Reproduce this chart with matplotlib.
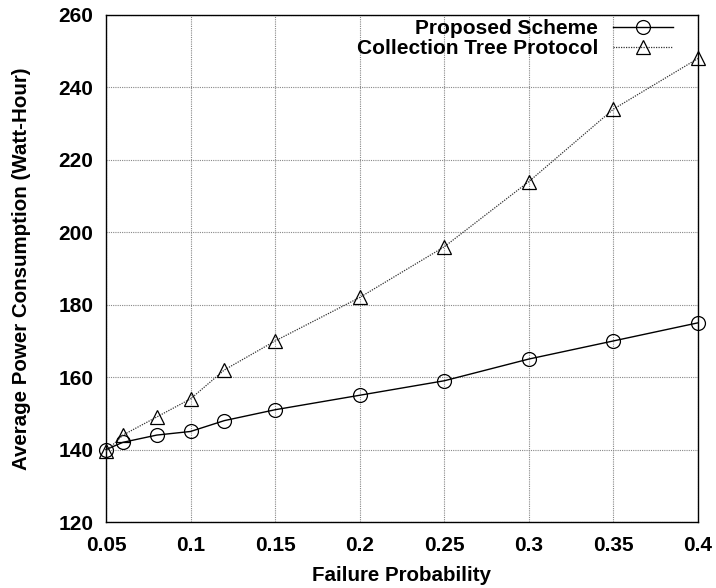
import matplotlib
matplotlib.use("Agg")
import matplotlib.pyplot as plt

# data
failure_prob = [0.05, 0.06, 0.08, 0.1, 0.12, 0.15, 0.2, 0.25, 0.3, 0.35, 0.4]
proposed = [140, 142, 144, 145, 148, 151, 155, 159, 165, 170, 175]
ctp = [139.5, 144, 149, 154, 162, 170, 182, 196, 214, 234, 248]

xticks = [0.05, 0.1, 0.15, 0.2, 0.25, 0.3, 0.35, 0.4]
xticklabels = ["0.05", "0.1", "0.15", "0.2", "0.25", "0.3", "0.35", "0.4"]
yticks = [120, 140, 160, 180, 200, 220, 240, 260]

plt.rcParams['font.family'] = ['Liberation Sans', 'DejaVu Sans']
plt.rcParams['font.weight'] = 'bold'

fig = plt.figure(figsize=(7.16, 5.88), dpi=100)
ax = fig.add_axes([106 / 716, 1 - 522 / 588, 592 / 716, 507 / 588])

ax.plot(failure_prob, proposed, color='black', linewidth=1.0,
        marker='o', markersize=10, markerfacecolor='none',
        markeredgecolor='black', markeredgewidth=0.9,
        label='Proposed Scheme', clip_on=False, zorder=3)
ax.plot(failure_prob, ctp, color='#333333', linewidth=0.9, linestyle=(0, (1, 1)),
        marker='^', markersize=10, markerfacecolor='none',
        markeredgecolor='black', markeredgewidth=0.9,
        label='Collection Tree Protocol', clip_on=False, zorder=3)

ax.set_xlim(0.05, 0.4)
ax.set_ylim(120, 260)
ax.set_xticks(xticks)
ax.set_xticklabels(xticklabels)
ax.set_yticks(yticks)
ax.tick_params(axis='y', length=0, labelsize=15, pad=9)
ax.tick_params(axis='x', length=0, labelsize=15, pad=10)
for lab in ax.get_xticklabels() + ax.get_yticklabels():
    lab.set_fontweight('bold')

ax.grid(True, color='#888888', linestyle=(0, (1, 1)), linewidth=0.8)
for s in ax.spines.values():
    s.set_linewidth(1.0)

ax.set_xlabel('Failure Probability', fontsize=14.8, fontweight='bold', labelpad=8)
ax.set_ylabel('Average Power Consumption (Watt-Hour)', fontsize=14.8,
              fontweight='bold', labelpad=20)

leg = ax.legend(loc='upper right', markerfirst=False, frameon=False,
                fontsize=15, handlelength=2.9, borderaxespad=0.0,
                labelspacing=0.05, handletextpad=0.7,
                bbox_to_anchor=(0.972, 1.008))
for t in leg.get_texts():
    t.set_fontweight('bold')

fig.savefig('out.png', dpi=100)
